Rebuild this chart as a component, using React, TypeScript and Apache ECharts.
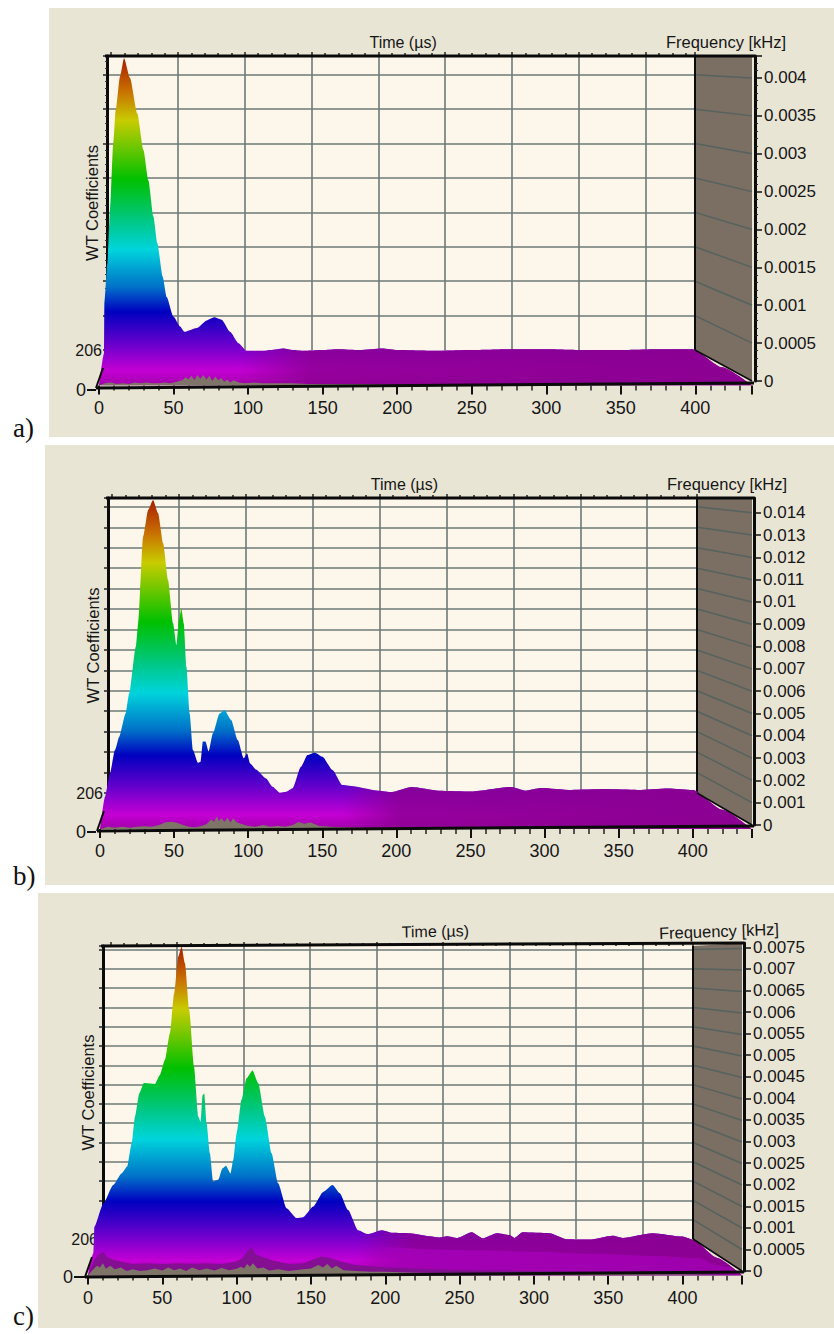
import React, { useEffect, useRef } from "react";
import * as echarts from "echarts";

const timeTicks = [0, 50, 100, 150, 200, 250, 300, 350, 400];

// Panel a
const timesA = [0,3.4,3.6,5.6,7.4,9.6,11.2,14.1,16.8,20.8,25.7,29.8,33.1,36.5,39.1,42.7,45.4,49.9,54.4,57.3,65.6,72.3,77.2,82.3,87.9,93.5,99.1,110,115,123.7,130,137,150,160,175,190,200,225,250,275,300,325,350,375,398,418,438];
const valuesA = [-0.00006,0.000366,0.001025,0.00155,0.00226,0.00314,0.00358,0.00402,0.00426,0.004,0.00353,0.00305,0.00265,0.00217,0.00182,0.00138,0.00111,0.00085,0.00072,0.00065,0.0007,0.0008,0.00084,0.00081,0.00065,0.0005,0.0004,0.0004,0.00041,0.00043,0.00041,0.0004,0.00041,0.00042,0.00041,0.00043,0.00041,0.0004,0.00041,0.00042,0.00042,0.00041,0.00041,0.00042,0.00042,0.00018,-0.00006];
const noiseTimesA = [0,4,8,12,16,20,24,28,32,36,40,44,48,52,56,58,60,62,64,66,68,70,72,74,76,78,80,82,84,86,88,90,94,98,104,110,120,130,140,160,180,200,250,300,400,438];
const noiseA = [-0.00006,-0.00003,-0.00002,-0.00004,-0.00003,-0.00004,-0.00002,-0.00003,-0.00002,-0.00003,-0.00003,-0.00002,-0.00003,-0.00001,0.00001,0.00005,0.00002,0.00007,0.00001,0.00008,0.00003,0.00008,0.00002,0.00007,0,0.00006,0.00001,0.00004,-0.00001,0.00002,-0.00002,0.00001,-0.00002,-0.00003,-0.00002,-0.00003,-0.00003,-0.00003,-0.00004,-0.00004,-0.00004,-0.00005,-0.00005,-0.00005,-0.00006,-0.00006];

// Panel b
const timesB = [0,3.4,6.7,10.1,13,17.3,19.7,24.2,25.8,29.1,32.5,35.8,39.2,42.6,45.9,49.3,51.6,53.3,54.9,56.5,58.3,60.5,62.7,66.1,67.9,69.4,71.2,73.3,76.2,80.7,84,88.5,93,97,99.3,101.3,105.3,112,116.5,121.4,125.5,130,135.6,140,145.2,150.1,156.9,163.6,168,188.2,197,210.4,228.6,250.8,277.6,287,297.8,318,340.8,363,383.2,400,420,440];
const valuesB = [-0.0002,0.00127,0.00232,0.00336,0.00396,0.005,0.0059,0.008,0.00905,0.01293,0.01413,0.01457,0.01398,0.01263,0.01099,0.00905,0.00807,0.00919,0.00972,0.00905,0.0071,0.005,0.00336,0.00279,0.00284,0.00374,0.00374,0.00329,0.00411,0.005,0.00516,0.00471,0.00381,0.00299,0.00321,0.00276,0.00249,0.00209,0.00172,0.00145,0.00149,0.00165,0.00261,0.00314,0.00324,0.00306,0.00247,0.00179,0.00176,0.00154,0.00148,0.0017,0.00154,0.0015,0.0017,0.00154,0.00166,0.00157,0.00161,0.00157,0.00164,0.00157,0.00068,-0.0002];
const noiseTimesB = [0,5,10,15,20,25,30,35,40,44,48,52,56,60,64,68,72,75,77,79,80,82,84,86,88,90,92,95,100,105,110,115,120,125,130,134,138,142,148,155,165,180,200,250,300,400,438];
const noiseB = [-0.0002,-0.00008,-0.00012,-0.00008,-0.00012,-0.00008,-0.00006,-0.00008,0,0.00012,0.00015,0.0001,0,-0.00008,-0.0001,-0.00006,0.00005,0.00025,0.00015,0.0004,0.00018,0.0003,0.00015,0.00032,0.00012,0.0003,0.00014,0.00006,-0.00004,-0.00008,0,-0.00008,-0.00004,-0.00008,0,0.00014,0.00006,0.00012,-0.00004,-0.00008,-0.0001,-0.00012,-0.00012,-0.00014,-0.00016,-0.00018,-0.0002];

// Panel c
const timesC = [0,1.3,3.6,4.3,10.3,17,22.6,26.4,29.4,31.6,34.5,37.6,45,48.4,51.8,55.1,58,60.7,63,65.2,68.1,71.3,74.2,75.8,77.1,78.2,79.8,82,84.2,87.6,90.5,92.8,95.9,97.7,100,103.3,106.7,110.7,114.5,119,123.5,127.9,133.6,140.3,144.7,151.5,158.2,164.5,169.4,175,181.7,188.2,197.6,205,216.5,230,236.6,241.3,248.7,258.2,265.5,275,283.7,287,292.4,310.6,322,337.5,353,359.7,379.8,400,406.7,423,440];
const valuesC = [-0.0001,0.00018,0.00042,0.00103,0.00157,0.002,0.00227,0.00243,0.00297,0.00359,0.00413,0.00437,0.00435,0.00456,0.00491,0.00553,0.00646,0.00731,0.00754,0.00716,0.00607,0.00475,0.00359,0.00347,0.00409,0.00413,0.00343,0.00274,0.00208,0.00212,0.00239,0.00245,0.00227,0.00258,0.0032,0.00398,0.00448,0.00466,0.00437,0.00359,0.00274,0.00204,0.00146,0.00123,0.00125,0.0015,0.00184,0.002,0.00181,0.00142,0.00095,0.00086,0.00095,0.00089,0.00088,0.00081,0.00078,0.00081,0.00077,0.0009,0.00076,0.00088,0.00084,0.00077,0.0009,0.00088,0.00074,0.00073,0.00082,0.00077,0.00088,0.0008,0.00073,0.00031,-0.0001];
const noiseTimesC = [0,3,6,8,10,12,15,18,22,26,30,35,40,45,50,54,58,62,66,70,75,80,85,90,95,100,103,105,107,109,111,114,118,122,128,135,142,150,155,158,161,164,167,172,180,190,200,220,250,300,350,400,440];
const noiseC = [-0.0001,0.00002,0.00012,0.00008,0.00018,0.00005,0.00012,0.00004,0.00008,0,0.00004,0,0.00002,0.00006,0.00001,0.00008,0.00002,0.00006,0,0.00008,0.00002,0.00006,0.00001,0.00007,0.00002,0.00005,0.0001,0.00006,0.00016,0.0001,0.00018,0.00006,0.00008,0.00001,0.00004,0,0.00003,0.00006,0.00014,0.00008,0.00016,0.00006,0.00012,0.00002,0,-0.00002,-0.00002,-0.00004,-0.00005,-0.00006,-0.00007,-0.00008,-0.0001];
const rimTimesC = [0,4,7,10,13,17,22,30,40,50,60,70,80,90,100,104,107,110,113,118,125,135,145,152,157,163,170,180,200,230,260,300,400,440];
const rimC = [-0.0001,0.00025,0.00038,0.00044,0.00032,0.00026,0.00022,0.00016,0.00018,0.00016,0.00018,0.00017,0.00018,0.00016,0.00022,0.0003,0.00045,0.00055,0.00038,0.00032,0.00024,0.00016,0.00018,0.00028,0.00034,0.0003,0.00022,0.00014,0.00008,0.00004,0.00002,0,-0.00004,-0.0001];
const bandTimesC = [185,200,230,260,300,340,380,410,425,440];
const bandC = [0.0006,0.00055,0.0005,0.00048,0.00045,0.0004,0.00035,0.0003,0.00012,-0.0001];

const FONT = "Liberation Sans";
const LINE = "#6c7a78";
const BLACK = "#0a0a0a";
const INK = "#161616";
const SURFACE_STOPS = [
  { offset: 0, color: "#a81e00" },
  { offset: 0.1, color: "#c87000" },
  { offset: 0.19, color: "#c8cc00" },
  { offset: 0.37, color: "#00c000" },
  { offset: 0.5, color: "#00c888" },
  { offset: 0.585, color: "#00d4dc" },
  { offset: 0.7, color: "#0070c8" },
  { offset: 0.775, color: "#0000c0" },
  { offset: 0.87, color: "#6400cc" },
  { offset: 0.955, color: "#c400d4" },
  { offset: 1, color: "#a000a8" },
];

const PANELS = [
  {
    bg: [49, 8, 785, 429], letter: "a)", letterY: 428,
    wallL: 107, wallR: 695, top: 56, floorY: 350, gridStep: 34.4,
    t0: 111.2, px50: 66.8, baseX: 99, rightX: 752, tMax: 438, baseY: 385.5,
    zeroY: 381, unitPx: 75.75, axisRight: 755, vMax: 0.00429, step: 0.0005, minor: true,
    leftZeroX: 96, leftZeroY: 390, zeroTick: 9,
    tiltL: 388, tiltR: 383, topR: 56,
    freq: [726, 42, 0], nameRot: 0, timeGap: 6,
    times: timesA, values: valuesA, noiseT: noiseTimesA, noise: noiseA, tailFrom: 88,
    rimT: null as number[] | null, rim: null as number[] | null,
    bandT: null as number[] | null, band: null as number[] | null,
  },
  {
    bg: [45, 445, 789, 440], letter: "b)", letterY: 876,
    wallL: 108, wallR: 697, top: 498, floorY: 793, gridStep: 20.44,
    t0: 112, px50: 66.9, baseX: 100, rightX: 752, tMax: 440, baseY: 829,
    zeroY: 825, unitPx: 22.3, axisRight: 754, vMax: 0.01466, step: 0.001, minor: false,
    leftZeroX: 96, leftZeroY: 832, zeroTick: 9,
    tiltL: 831, tiltR: 826, topR: 498,
    freq: [727, 484, 0], nameRot: 0, timeGap: 6,
    times: timesB, values: valuesB, noiseT: noiseTimesB, noise: noiseB, tailFrom: 160,
    rimT: null as number[] | null, rim: null as number[] | null,
    bandT: null as number[] | null, band: null as number[] | null,
  },
  {
    bg: [38, 893, 796, 435], letter: "c)", letterY: 1316,
    wallL: 103, wallR: 693, top: 946, floorY: 1239, gridStep: 19.3,
    t0: 110.5, px50: 66.5, baseX: 88, rightX: 742, tMax: 440, baseY: 1275.5,
    zeroY: 1271, unitPx: 43, axisRight: 744, vMax: 0.0076, step: 0.0005, minor: false,
    leftZeroX: 88, leftZeroY: 1277, zeroTick: 14,
    tiltL: 1277, tiltR: 1272, topR: 943,
    freq: [719, 931, 0.035], nameRot: 1, timeGap: 14,
    times: timesC, values: valuesC, noiseT: noiseTimesC, noise: noiseC, tailFrom: 178,
    rimT: rimTimesC, rim: rimC,
    bandT: bandTimesC, band: bandC,
  },
];

const H = 1334;
const W = 834;

function pairs(t: number[], v: number[]) {
  return t.map((x, i) => [x, v[i]]);
}

function buildOption() {
  const grid: any[] = [];
  const xAxis: any[] = [];
  const yAxis: any[] = [];
  const series: any[] = [];
  const graphic: any[] = [];
  const hiddenX = (gridIndex: number, min = 0, max = 1) => ({ type: "value", gridIndex, min, max, show: false });
  const hiddenY = (gridIndex: number, min = 0, max = 1) => ({ type: "value", gridIndex, min, max, show: false });
  const txt = { fontFamily: FONT, color: INK };

  PANELS.forEach((p) => {
    const [bx, by, bw, bh] = p.bg;
    graphic.push({ type: "rect", z: -10, shape: { x: bx, y: by, width: bw, height: bh }, style: { fill: "#e9e5d5" } });
    graphic.push({ type: "rect", z: -9, shape: { x: p.wallL, y: p.top, width: p.wallR - p.wallL, height: p.zeroY - p.top }, style: { fill: "#fdf6ea" } });
    graphic.push({ type: "polygon", z: -8, shape: { points: [[p.wallR, p.top], [p.rightX, p.topR], [p.rightX, p.zeroY], [p.wallR, p.floorY]] }, style: { fill: "#7b6e62" } });
    graphic.push({ type: "text", z: 20, x: 13, y: p.letterY, style: { text: p.letter, fontFamily: "Liberation Serif", fontSize: 27, fill: "#111", textVerticalAlign: "middle" } });
    graphic.push({ type: "text", z: 20, x: p.freq[0], y: p.freq[1], rotation: p.freq[2], style: { text: "Frequency [kHz]", fontFamily: FONT, fontSize: 16.5, fill: INK, textAlign: "center", textVerticalAlign: "middle" } });

    // slanted lines of the side wall, one for each back-wall grid line
    const n = Math.floor((p.floorY - p.top) / p.gridStep);
    for (let k = 1; k <= n; k++) {
      graphic.push({ type: "line", z: 1, shape: { x1: p.wallR, y1: p.floorY - p.gridStep * k, x2: p.rightX, y2: p.zeroY - p.unitPx * p.step * 1000 * k }, style: { stroke: "#56625f", lineWidth: 1.5 } });
    }
    // frame
    graphic.push({ type: "line", z: 10, shape: { x1: p.wallL - 2, y1: p.top, x2: p.axisRight, y2: p.topR }, style: { stroke: BLACK, lineWidth: 3 } });
    graphic.push({ type: "line", z: 1, shape: { x1: p.wallR, y1: p.top, x2: p.wallR, y2: p.floorY }, style: { stroke: BLACK, lineWidth: 2 } });
    graphic.push({ type: "line", z: 10, shape: { x1: p.wallR, y1: p.floorY, x2: p.rightX, y2: p.zeroY }, style: { stroke: BLACK, lineWidth: 1.5 } });
    graphic.push({ type: "line", z: 10, shape: { x1: p.baseX - 3, y1: p.tiltL, x2: p.rightX + 2, y2: p.tiltR }, style: { stroke: BLACK, lineWidth: 3 } });
    graphic.push({ type: "line", z: 10, shape: { x1: p.baseX - 3, y1: p.tiltL, x2: p.baseX + 4, y2: p.tiltL - 20 }, style: { stroke: BLACK, lineWidth: 2 } });

    // back wall: horizontal lines, left axis
    let gi = grid.length;
    grid.push({ left: p.wallL, width: p.wallR - p.wallL, top: p.top, height: p.floorY - p.top, show: false });
    xAxis.push(hiddenX(gi));
    const leftMax = 206 + ((p.floorY - p.top) / p.gridStep) * 206;
    yAxis.push({
      type: "value", gridIndex: gi, min: 206, max: leftMax, interval: 206,
      name: "WT Coefficients", nameLocation: "middle", nameGap: 7, nameRotate: 90, nameMoveOverlap: false,
      nameTextStyle: { ...txt, fontSize: 16.5, verticalAlign: "bottom" },
      axisLine: { show: true, onZero: false, lineStyle: { color: BLACK, width: 3 } },
      axisTick: { show: true, length: 4, lineStyle: { color: "#222", width: 1.5 } },
      minorTick: { show: p.minor, splitNumber: 5, length: 2, lineStyle: { color: "#333" } },
      axisLabel: { show: true, margin: 5, fontFamily: FONT, fontSize: 16, color: INK, formatter: (v: number) => (v === 206 ? "206" : "") },
      splitLine: { show: true, showMinLine: false, showMaxLine: false, lineStyle: { color: LINE, width: 1.6 } },
    });

    // back wall: vertical lines, top time axis
    gi = grid.length;
    grid.push({ left: p.t0, right: W - p.wallR, top: p.top, height: p.floorY - p.top, show: false });
    xAxis.push({
      type: "value", gridIndex: gi, position: "top", min: 0, max: ((p.wallR - p.t0) / p.px50) * 50, interval: 50,
      name: "Time (µs)", nameLocation: "middle", nameGap: p.timeGap, nameRotate: p.nameRot, nameMoveOverlap: false,
      nameTextStyle: { ...txt, fontSize: 16 },
      axisLine: { show: false, onZero: false },
      axisTick: { show: true, length: 4, lineStyle: { color: "#222", width: 1.5 } },
      minorTick: { show: true, splitNumber: 5, length: 3, lineStyle: { color: "#222", width: 1.5 } },
      axisLabel: { show: false },
      splitLine: { show: true, showMinLine: false, showMaxLine: false, lineStyle: { color: LINE, width: 1.6 } },
    });
    yAxis.push(hiddenY(gi));

    // surface and bottom time axis
    gi = grid.length;
    grid.push({ left: p.baseX, right: W - p.rightX, top: p.top, height: p.baseY - p.top, show: false });
    const ptMax = (p.zeroY - p.top) / (p.unitPx * 1000);
    const ptMin = -(p.baseY - p.zeroY) / (p.unitPx * 1000);
    xAxis.push({
      type: "value", gridIndex: gi, position: "bottom", min: 0, max: p.tMax, interval: 50,
      axisLine: { show: false, onZero: false },
      axisTick: { show: true, length: 9, lineStyle: { color: "#111", width: 2 } },
      minorTick: { show: true, splitNumber: 5, length: 5, lineStyle: { color: "#222", width: 1.5 } },
      axisLabel: { show: true, margin: 13, fontFamily: FONT, fontSize: 18, color: INK, customValues: timeTicks },
      splitLine: { show: false },
    });
    yAxis.push(hiddenY(gi, ptMin, ptMax));
    const common = { type: "line", xAxisIndex: gi, yAxisIndex: gi, showSymbol: false, silent: true, lineStyle: { width: 0, opacity: 0 }, animation: false };
    series.push({
      ...common, name: "WT surface " + p.letter, z: 3, smooth: 0.2, smoothMonotone: "x",
      data: pairs(p.times, p.values),
      areaStyle: { origin: "start", opacity: 1, color: { type: "linear", x: 0, y: 0, x2: 0, y2: 1, colorStops: SURFACE_STOPS } },
    });
    const tailIdx = p.times.findIndex((t) => t >= p.tailFrom);
    series.push({
      ...common, name: "floor " + p.letter, z: 4, smooth: 0.2, smoothMonotone: "x",
      data: pairs(p.times.slice(tailIdx), p.values.slice(tailIdx)),
      areaStyle: { origin: "start", opacity: 1, color: { type: "linear", x: 0, y: 0, x2: 1, y2: 0, colorStops: [
        { offset: 0, color: "rgba(139,0,145,0)" }, { offset: 0.14, color: "rgba(139,0,145,0.8)" }, { offset: 1, color: "rgba(139,0,145,1)" },
      ] } },
    });
    if (p.bandT && p.band) {
      series.push({
        ...common, name: "bright band " + p.letter, z: 4, smooth: 0.4, smoothMonotone: "x",
        data: pairs(p.bandT, p.band),
        areaStyle: { origin: "start", opacity: 1, color: { type: "linear", x: 0, y: 0, x2: 1, y2: 0, colorStops: [
          { offset: 0, color: "rgba(176,0,200,0)" }, { offset: 0.12, color: "rgba(176,0,200,0.55)" }, { offset: 1, color: "rgba(170,0,190,0.6)" },
        ] } },
      });
    }
    if (p.rimT && p.rim) {
      series.push({
        ...common, name: "rim " + p.letter, z: 5,
        data: pairs(p.rimT, p.rim),
        areaStyle: { origin: "start", opacity: 0.85, color: "#7a1288" },
      });
    }
    series.push({
      ...common, name: "noise " + p.letter, z: 6,
      data: pairs(p.noiseT, p.noise),
      areaStyle: { origin: "start", opacity: 1, color: "#7f7468" },
    });

    // right axis
    gi = grid.length;
    grid.push({ left: p.rightX - 50, right: W - p.axisRight, top: Math.min(p.top, p.topR), height: p.zeroY - Math.min(p.top, p.topR), show: false });
    xAxis.push(hiddenX(gi));
    yAxis.push({
      type: "value", gridIndex: gi, position: "right", min: 0, max: p.vMax, interval: p.step,
      axisLine: { show: true, onZero: false, lineStyle: { color: BLACK, width: 3 } },
      axisTick: { show: true, length: 7, lineStyle: { color: "#111", width: 1.5 } },
      minorTick: { show: p.minor, splitNumber: 5, length: 3, lineStyle: { color: "#222" } },
      axisLabel: { show: true, margin: 9, fontFamily: FONT, fontSize: 17, color: INK, showMaxLabel: false, formatter: (v: number) => String(+v.toFixed(4)) },
      splitLine: { show: false },
    });

    // left "0"
    gi = grid.length;
    grid.push({ left: p.leftZeroX, width: 5, top: p.leftZeroY - 10, height: 10, show: false });
    xAxis.push(hiddenX(gi));
    yAxis.push({
      type: "value", gridIndex: gi, position: "left", min: 0, max: 10, interval: 10,
      axisLine: { show: false, onZero: false },
      axisTick: { show: true, length: p.zeroTick, customValues: [0], lineStyle: { color: "#111", width: 2 } },
      axisLabel: { show: true, margin: p.zeroTick + 1, fontFamily: FONT, fontSize: 18, color: INK, customValues: [0] },
      splitLine: { show: false },
    });
  });

  return { animation: false, backgroundColor: "#ffffff", grid, xAxis, yAxis, series, graphic: { elements: graphic } };
}

export default function App() {
  const ref = useRef<HTMLDivElement>(null);
  useEffect(() => {
    document.body.style.margin = "0";
    const chart = echarts.init(ref.current!, null, { renderer: "svg" });
    chart.setOption(buildOption() as any);
    return () => chart.dispose();
  }, []);
  return <div ref={ref} style={{ width: W, height: H }} />;
}
